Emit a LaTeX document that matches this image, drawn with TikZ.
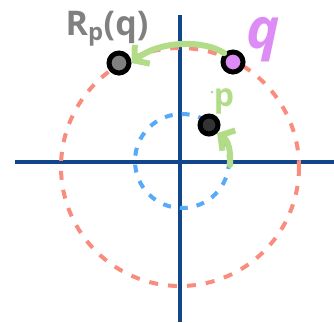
\documentclass[tikz,border=0pt]{standalone}
\usepackage{fontspec}
\setmainfont{Open Sans}
\usetikzlibrary{arrows.meta}
\definecolor{axisblue}{RGB}{18,70,140}
\definecolor{ringred}{RGB}{250,140,125}
\definecolor{ringblue}{RGB}{85,170,250}
\definecolor{sketchgreen}{RGB}{178,220,135}
\definecolor{qpink}{RGB}{222,140,245}
\definecolor{rgray}{RGB}{128,128,128}
\begin{document}
\begin{tikzpicture}[x=1pt,y=-1pt,
    pt/.style={circle, draw=black, line width=5pt, inner sep=0pt, minimum size=20pt},
    sketcharrow/.style={sketchgreen, line width=6pt, line cap=round, -{Straight Barb[length=10pt,width=24pt,line width=6pt]}}]
    \useasboundingbox (0,0) rectangle (334,322);
    % Axes
    \draw[axisblue, line width=3.5pt] (15,162) -- (334,162);
    \draw[axisblue, line width=3.5pt] (180,15) -- (180,322);

    % Circles
    \draw[ringred, line width=4pt, dash pattern=on 9pt off 10pt] (180,167) circle (119);
    \draw[ringblue, line width=4pt, dash pattern=on 8pt off 9pt] (182,161) circle (47);

    % Points
    \node[pt, fill=qpink] (q) at (233,62) {};
    \node[pt, fill=rgray] (R) at (119,63) {};
    \node[pt, fill=black!80, minimum size=18pt] (p) at (209,125) {};
    \coordinate (pstart) at (230,165);

    % Arrows
    \draw[sketcharrow] (q.north west) .. controls (205,40) and (160,40) .. (R.east);
    \draw[sketcharrow] (pstart) .. controls (231,150) and (228,140) .. (p.south east);

    % Labels
    \node[text=qpink, font=\fontsize{56}{56}\selectfont\bfseries\itshape] (qlab) at (263,40) {q};
    \node[text=sketchgreen, font=\fontsize{32}{32}\selectfont\bfseries] (plab) at (224,101) {p};
    \node[text=rgray, font=\fontsize{34}{34}\selectfont\bfseries] (Rlab) at (107,29) {R\textsubscript{p}(q)};
    \fill[sketchgreen] (212,92) circle (1.5pt);
\end{tikzpicture}
\end{document}
